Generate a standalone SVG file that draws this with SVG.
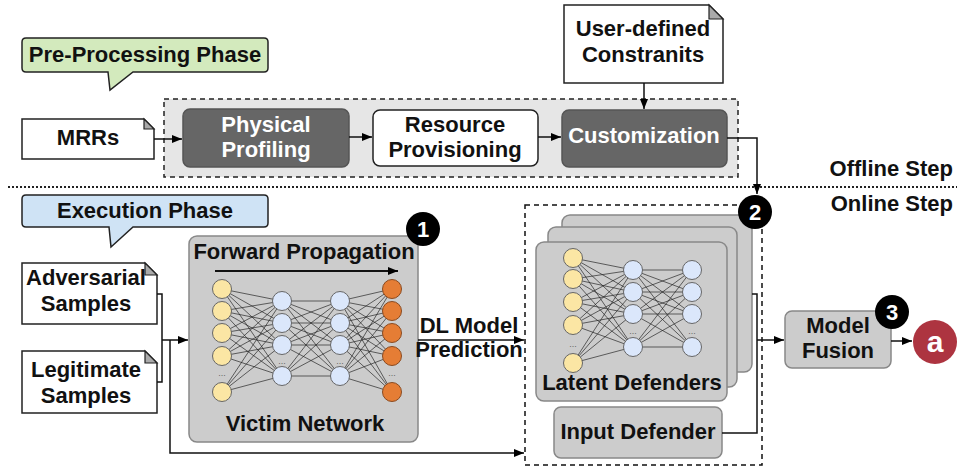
<svg xmlns="http://www.w3.org/2000/svg" width="957" height="467" viewBox="0 0 957 467">
<defs>
<marker id="ah" viewBox="0 0 10 10" refX="10" refY="5" markerWidth="10" markerHeight="10" markerUnits="userSpaceOnUse" orient="auto"><path d="M0,1 L10,5 L0,9 Z" fill="#000"/></marker>
<style>
text{font-family:"Liberation Sans",Arial,sans-serif;font-weight:bold;font-size:22px;fill:#111;text-anchor:middle}
.w{fill:#fff}
.r{text-anchor:end}
.conn{fill:none;stroke:#111;stroke-width:1.5}
.conn path.a{marker-end:url(#ah)}
.note{fill:#fff;stroke:#222;stroke-width:1.5}
.fold{fill:#aaa;stroke:#222;stroke-width:1.2}
.dark{fill:#666;stroke:#555;stroke-width:1.5}
.gbox{fill:#cccccc;stroke:#888;stroke-width:1.5}
.edge{fill:none;stroke:#222;stroke-width:0.8;opacity:0.85}
.ny{fill:#fbe6a4;stroke:#666;stroke-width:1}
.nb{fill:#dbe7fb;stroke:#666;stroke-width:1}
.no{fill:#e57d35;stroke:#8a4a20;stroke-width:1}
.dots{font-size:9px;font-weight:normal;fill:#666}
.badge{fill:#000}
</style>
</defs>
<rect width="957" height="467" fill="#fff"/>

<!-- separator -->
<line x1="8" y1="187" x2="957" y2="187" stroke="#222" stroke-width="2" stroke-dasharray="2,2"/>
<text class="r" x="953" y="176">Offline Step</text>
<text class="r" x="953" y="211">Online Step</text>

<!-- phase callouts -->
<g id="pre-phase">
<path d="M26,38 H264 Q268,38 268,42 V68 Q268,72 264,72 H133 L110,90 L108,72 H26 Q22,72 22,68 V42 Q22,38 26,38 Z" fill="#d3eabd" stroke="#222" stroke-width="1.5"/>
<text x="145" y="62">Pre-Processing Phase</text>
</g>
<g id="exec-phase">
<path d="M26,195 H264 Q268,195 268,199 V223 Q268,227 264,227 H133 L111,247 L109,227 H26 Q22,227 22,223 V199 Q22,195 26,195 Z" fill="#cfe3f5" stroke="#222" stroke-width="1.5"/>
<text x="145" y="218">Execution Phase</text>
</g>

<!-- offline container -->
<g id="offline-container">
<rect x="164" y="99" width="574" height="78" fill="#e6e6e6" stroke="#222" stroke-width="1.5" stroke-dasharray="5,4"/>
</g>

<g id="mrrs">
<path class="note" d="M22,119 H144 L154,129 V159 H22 Z"/>
<path class="fold" d="M144,119 V129 H154 Z"/>
<text x="88" y="145">MRRs</text>
</g>

<g id="physical-profiling">
<rect class="dark" x="183" y="109" width="166" height="58" rx="7"/>
<text class="w" x="266" y="132">Physical</text>
<text class="w" x="266" y="157">Profiling</text>
</g>

<g id="resource-provisioning">
<rect x="373" y="110" width="165" height="56" rx="7" fill="#fff" stroke="#222" stroke-width="1.5"/>
<text x="455" y="132">Resource</text>
<text x="455" y="157">Provisioning</text>
</g>

<g id="customization">
<rect class="dark" x="562" y="110" width="165" height="57" rx="7"/>
<text class="w" x="644" y="143">Customization</text>
</g>

<g id="user-constraints">
<path class="note" d="M564,5 H709 L723,19 V83 H564 Z"/>
<path class="fold" d="M709,5 V19 H723 Z"/>
<text x="643" y="36">User-defined</text>
<text x="643" y="62">Constranits</text>
</g>

<!-- inputs -->
<g id="adversarial-samples">
<path class="note" d="M22,263 H145 L157,275 V324 H22 Z"/>
<path class="fold" d="M145,263 V275 H157 Z"/>
<text x="86" y="285">Adversarial</text>
<text x="86" y="311">Samples</text>
</g>
<g id="legitimate-samples">
<path class="note" d="M22,351 H145 L157,363 V413 H22 Z"/>
<path class="fold" d="M145,351 V363 H157 Z"/>
<text x="86" y="377">Legitimate</text>
<text x="86" y="403">Samples</text>
</g>

<!-- victim network -->
<g id="victim-network">
<rect class="gbox" x="189" y="236" width="229" height="206" rx="8"/>
<text x="304" y="259">Forward Propagation</text>
<line x1="215" y1="271" x2="398" y2="271" stroke="#111" stroke-width="2" marker-end="url(#ah)"/>
<path class="edge" d="M222,289L282,301M222,289L282,323M222,289L282,345M222,289L282,376M222,311L282,301M222,311L282,323M222,311L282,345M222,311L282,376M222,333L282,301M222,333L282,323M222,333L282,345M222,333L282,376M222,356L282,301M222,356L282,323M222,356L282,345M222,356L282,376M222,392L282,301M222,392L282,323M222,392L282,345M222,392L282,376
M282,301L340,301M282,301L340,323M282,301L340,345M282,301L340,376M282,323L340,301M282,323L340,323M282,323L340,345M282,323L340,376M282,345L340,301M282,345L340,323M282,345L340,345M282,345L340,376M282,376L340,301M282,376L340,323M282,376L340,345M282,376L340,376
M340,301L392,289M340,301L392,311M340,301L392,333M340,301L392,356M340,301L392,392M340,323L392,289M340,323L392,311M340,323L392,333M340,323L392,356M340,323L392,392M340,345L392,289M340,345L392,311M340,345L392,333M340,345L392,356M340,345L392,392M340,376L392,289M340,376L392,311M340,376L392,333M340,376L392,356M340,376L392,392"/>
<g class="ny"><circle cx="222" cy="289" r="9.5"/><circle cx="222" cy="311" r="9.5"/><circle cx="222" cy="333" r="9.5"/><circle cx="222" cy="356" r="9.5"/><circle cx="222" cy="392" r="9.5"/></g>
<g class="nb"><circle cx="282" cy="301" r="9.5"/><circle cx="282" cy="323" r="9.5"/><circle cx="282" cy="345" r="9.5"/><circle cx="282" cy="376" r="9.5"/>
<circle cx="340" cy="301" r="9.5"/><circle cx="340" cy="323" r="9.5"/><circle cx="340" cy="345" r="9.5"/><circle cx="340" cy="376" r="9.5"/></g>
<g class="no"><circle cx="392" cy="289" r="9.5"/><circle cx="392" cy="311" r="9.5"/><circle cx="392" cy="333" r="9.5"/><circle cx="392" cy="356" r="9.5"/><circle cx="392" cy="392" r="9.5"/></g>
<text class="dots" x="222" y="376">...</text><text class="dots" x="282" y="364">...</text><text class="dots" x="340" y="364">...</text><text class="dots" x="392" y="376">...</text>
<text x="305" y="431">Victim Network</text>
</g>
<g id="badge-1"><circle class="badge" cx="423" cy="229" r="17"/><text class="w" x="423" y="237">1</text></g>

<!-- online container -->
<g id="online-container">
<rect x="525" y="205" width="237" height="260" fill="none" stroke="#111" stroke-width="1.5" stroke-dasharray="5,4"/>
</g>

<g id="latent-defenders">
<rect class="gbox" x="562" y="215" width="190" height="157" rx="8"/>
<rect class="gbox" x="548" y="227" width="189" height="160" rx="8"/>
<rect class="gbox" x="536" y="242" width="191" height="159" rx="8"/>
<path class="edge" d="M573,258L633,270M573,258L633,292M573,258L633,314M573,258L633,347M573,279L633,270M573,279L633,292M573,279L633,314M573,279L633,347M573,302L633,270M573,302L633,292M573,302L633,314M573,302L633,347M573,325L633,270M573,325L633,292M573,325L633,314M573,325L633,347M573,363L633,270M573,363L633,292M573,363L633,314M573,363L633,347
M633,270L692,270M633,270L692,292M633,270L692,314M633,270L692,347M633,292L692,270M633,292L692,292M633,292L692,314M633,292L692,347M633,314L692,270M633,314L692,292M633,314L692,314M633,314L692,347M633,347L692,270M633,347L692,292M633,347L692,314M633,347L692,347"/>
<g class="ny"><circle cx="573" cy="258" r="9.5"/><circle cx="573" cy="279" r="9.5"/><circle cx="573" cy="302" r="9.5"/><circle cx="573" cy="325" r="9.5"/><circle cx="573" cy="363" r="9.5"/></g>
<g class="nb"><circle cx="633" cy="270" r="9.5"/><circle cx="633" cy="292" r="9.5"/><circle cx="633" cy="314" r="9.5"/><circle cx="633" cy="347" r="9.5"/>
<circle cx="692" cy="270" r="9.5"/><circle cx="692" cy="292" r="9.5"/><circle cx="692" cy="314" r="9.5"/><circle cx="692" cy="347" r="9.5"/></g>
<text class="dots" x="573" y="347">...</text><text class="dots" x="633" y="334">...</text><text class="dots" x="692" y="334">...</text>
<text x="632" y="390">Latent Defenders</text>
</g>

<g id="input-defender">
<rect class="gbox" x="554" y="407" width="168" height="51" rx="7"/>
<text x="638" y="439">Input Defender</text>
</g>

<g id="badge-2"><circle class="badge" cx="755" cy="212" r="17"/><text class="w" x="755" y="220">2</text></g>

<g id="model-fusion">
<rect class="gbox" x="785" y="311" width="106" height="57" rx="7"/>
<text x="838" y="333">Model</text>
<text x="838" y="358">Fusion</text>
</g>
<g id="badge-3"><circle class="badge" cx="892" cy="312" r="17"/><text class="w" x="892" y="320">3</text></g>

<g id="output-a"><circle cx="935" cy="342" r="22" fill="#ad3440"/><text class="w" x="935" y="352" style="font-size:30px">a</text></g>

<g id="labels">
<text x="469" y="333">DL Model</text>
<text x="469" y="357">Prediction</text>
</g>

<!-- connectors -->
<g class="conn" id="connectors">
<path class="a" d="M154,139 H182"/>
<path class="a" d="M349,137 H372"/>
<path class="a" d="M538,137 H561"/>
<path class="a" d="M644,83 V109"/>
<path class="a" d="M727,138 H757 V194"/>
<path d="M157,294 H162 V382 H157"/>
<path class="a" d="M162,340 H188"/>
<path class="a" d="M170,340 V453 H524"/>
<path class="a" d="M418,340 H524"/>
<path d="M752,294 H757 V433 H722"/>
<path class="a" d="M757,340 H784"/>
<path class="a" d="M891,341 H912"/>
</g>
</svg>
